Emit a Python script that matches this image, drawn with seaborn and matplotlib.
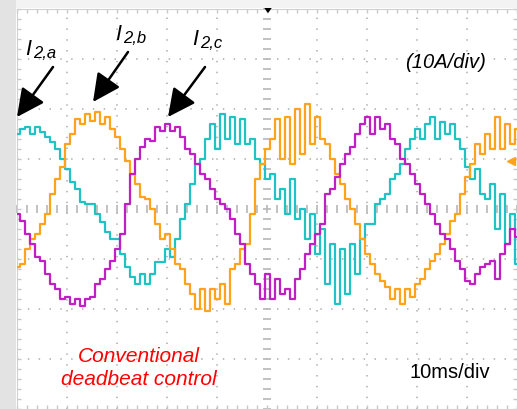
import numpy as np
import pandas as pd
import matplotlib
matplotlib.use("Agg")
import matplotlib.pyplot as plt
import seaborn as sns
from matplotlib.patches import Rectangle

# ---- data (time in ms, current in A) ----
time_ms = list(range(0, 101))

i2a = [15, 16, 16.5, 15, 16.5, 15.5, 14.5, 13.5, 12, 10,
       8, 5.5, 4, 1.5, 1, 1, -1, -2.5, -4.5, -6,
       -6, -9, -11.5, -13.5, -15, -13, -15, -13, -10.5, -10.5,
       -8, -9.5, -6, -2, 1, 5, 9, 10, 14, 17,
       12, 19, 14, 18.5, 13, 18, 13, 14, 10, 9,
       6, 7, 2, 4, -1, 6, -2, 0, -6, -1,
       -9, -4, -15, -7, -19, -8, -17, -7, -13, -6,
       -3, -3, 1, 2, 3, 6, 7, 9, 12, 14,
       16, 14, 17, 18.5, 14, 17.5, 15, 17, 14, 12,
       8.4, 6, 8, 3, 2, 5, -4, 3, -7, -1, -11]

i2b = [-11.6, -11, -8, -6, -5, -3, -1, 3, 6, 8.4,
       13, 15, 18, 17, 19, 17.6, 19.4, 17, 18.4, 16,
       14.4, 12, 9.6, 7, 5, 2.4, 2, 0, -3, -6,
       -5, -8, -11, -12, -15, -17, -20, -16, -20.4, -16,
       -18, -15, -19, -12, -11, -8, -7, -1, 6, 9,
       12, 14, 18, 10, 18.4, 9, 20, 11, 21, 13,
       18.4, 14, 13, 10, 7, 5, 2, 0, -3, -6,
       -9, -11, -13, -14.4, -15.6, -18, -16, -19, -16, -17.6,
       -15, -14, -12, -10.4, -9, -7, -5, -2.4, -1, 3,
       6.4, 9, 13, 11, 15, 12, 18.4, 12, 17, 13, 16]

i2c = [-1, -2.4, -5, -7, -9.6, -10.4, -13, -15, -16, -18,
       -17.6, -19, -18, -19.4, -18, -17.6, -15, -14, -12, -10.4,
       -8, -5, 1, 7, 10, 12.4, 14, 13.6, 16.4, 15.6,
       17, 15.6, 16.4, 14.4, 12, 11, 9, 7, 6, 4,
       2, 1, 0, -2, -5, -7, -11, -13, -15, -18,
       -13, -18, -14, -17, -16, -18, -14, -12, -9, -7,
       -5, -3, 3, 4, 6.4, 9, 11, 12.4, 15, 17,
       18.4, 15, 18.4, 16, 17, 14, 13, 10, 9, 7,
       5, 3, 1, -1, -3, -5, -6, -8, -10.4, -12,
       -14.4, -15, -13, -11.6, -11, -10.4, -14, -9, -7, -4, -5.6]

series_names = ["I2a", "I2b", "I2c"]
series_colors = {"I2a": "#1fc3c3", "I2b": "#ffa21c", "I2c": "#c21ec6"}
label_subs = ["2,a", "2,b", "2,c"]

df = pd.concat([
    pd.DataFrame({"t": time_ms, "i": vals, "phase": name})
    for name, vals in zip(series_names, [i2a, i2b, i2c])
], ignore_index=True)

# ---- figure ----
W, H = 517, 410
fig = plt.figure(figsize=(W / 100, H / 100), dpi=100)
fig.patch.set_facecolor("white")
fig.patches.append(Rectangle((0, 0), 16 / W, 1, transform=fig.transFigure,
                             facecolor="#e3e3e3", edgecolor="none", zorder=0))
fig.patches.append(Rectangle((16 / W, 1 - 9 / H), 1, 9 / H, transform=fig.transFigure,
                             facecolor="#f3f3f3", edgecolor="none", zorder=0))

ax = fig.add_axes([17 / W, 0, 500 / W, 400 / H])
ax.set_facecolor("white")
ax.set_xlim(0, 100)
ax.set_ylim(-40, 40)

# scope graticule
grid_col = "#b8b8b8"
for xv in np.arange(10, 100, 10):
    if xv != 50:
        ax.axvline(xv, color=grid_col, lw=1.3, ls=(0, (0.8, 5.2)), zorder=1)
for yv in np.arange(-30, 40, 10):
    if yv != 0:
        ax.axhline(yv, color=grid_col, lw=1.3, ls=(0, (0.8, 5.2)), zorder=1)
ax.scatter(np.arange(0, 101, 2), np.zeros(51), marker="|", s=30, color=grid_col,
           linewidths=1.2, zorder=1, clip_on=False)
ax.scatter(np.full(41, 50), np.arange(-40, 41, 2), marker="_", s=30, color=grid_col,
           linewidths=1.2, zorder=1, clip_on=False)

for s in ax.spines.values():
    s.set_color("#d0d0d0")
    s.set_linewidth(0.8)
ax.set_xticks(np.arange(0, 101, 2))
ax.set_yticks(np.arange(-40, 41, 2))
ax.tick_params(direction="in", length=3, width=1, color="#c8c8c8",
               top=True, right=True, labelbottom=False, labelleft=False)

sns.lineplot(data=df, x="t", y="i", hue="phase", palette=series_colors,
             hue_order=series_names, estimator=None, sort=False,
             drawstyle="steps-mid", linewidth=1.6, legend=False, ax=ax, zorder=3)
ax.set_xlabel("")
ax.set_ylabel("")

# channel / trigger markers
ax.plot([-1.2], [0], marker=">", color="#ffa21c", ms=6, clip_on=False, zorder=4)
ax.plot([-1.6], [0.8], marker=">", color="#1fc3c3", ms=4, clip_on=False, zorder=4)
ax.plot([98.8], [9.6], marker="<", color="#ffa21c", ms=6, clip_on=False, zorder=4)
ax.annotate("", xy=(50.2, 38.6), xytext=(50.2, 41.8),
            arrowprops=dict(arrowstyle="-|>,head_length=0.35,head_width=0.25",
                            color="black", lw=1.5),
            annotation_clip=False)

# phase labels: large italic I with a subscript
label_pos = [(1.6, 31.0), (19.6, 34.0), (35.0, 33.0)]
for (lx, ly), sub in zip(label_pos, label_subs):
    ax.annotate("I", xy=(lx, ly), ha="left", va="baseline", fontsize=15.5,
                style="italic", family="Liberation Sans", color="black")
    ax.annotate(sub, xy=(lx, ly), xytext=(5.5, -2.5), textcoords="offset points",
                ha="left", va="baseline", fontsize=12, style="italic",
                family="Liberation Sans", color="black")

arrow_kw = dict(arrowstyle="-|>,head_length=0.85,head_width=0.42",
                color="black", lw=1.8, mutation_scale=20,
                shrinkA=0, shrinkB=0)
ax.annotate("", xy=(0.0, 18.4), xytext=(7.2, 28.4), arrowprops=arrow_kw,
            annotation_clip=False, zorder=5)
ax.annotate("", xy=(15.2, 21.4), xytext=(22.2, 31.4), arrowprops=arrow_kw, zorder=5)
ax.annotate("", xy=(30.2, 18.4), xytext=(37.6, 28.4), arrowprops=arrow_kw, zorder=5)

ax.text(85.8, 29.4, "(10A/div)", ha="center", va="center", fontsize=14.5,
        style="italic", family="Liberation Sans", color="black")
ax.text(24.4, -31.6, "Conventional\ndeadbeat control", ha="center", va="center",
        fontsize=15, style="italic", family="Liberation Sans", color="#ff0000",
        linespacing=1.25)
ax.text(86.6, -32.6, "10ms/div", ha="center", va="center", fontsize=14.5,
        family="Liberation Sans", color="black")

fig.savefig("out.png", dpi=100)
